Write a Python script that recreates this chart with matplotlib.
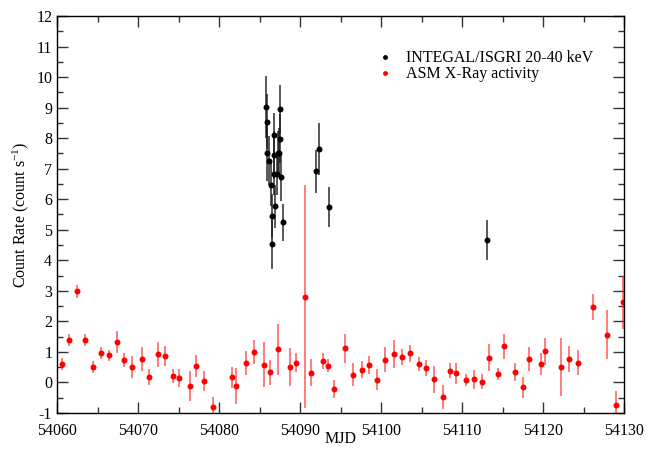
import matplotlib
matplotlib.use("Agg")
import matplotlib.pyplot as plt
from matplotlib.lines import Line2D
from matplotlib.ticker import MultipleLocator, ScalarFormatter

plt.rcParams['font.family'] = ['Liberation Serif', 'DejaVu Serif']
plt.rcParams['mathtext.default'] = 'regular'
plt.rcParams['axes.unicode_minus'] = False

# INTEGAL/ISGRI 20-40 keV
isgri_mjd = [54085.84, 54085.9, 54085.9, 54086.2, 54086.4, 54086.5, 54086.6,
             54086.8, 54086.8, 54086.75, 54086.9, 54087.1, 54087.3, 54087.4,
             54087.5, 54087.5, 54087.65, 54087.94, 54092.0, 54092.4, 54093.6,
             54113.05]
isgri_rate = [9.02, 8.54, 7.51, 7.26, 6.48, 5.46, 4.53,
              8.09, 7.45, 6.84, 5.77, 6.83, 7.53, 7.52,
              8.95, 7.98, 6.74, 5.24, 6.92, 7.65, 5.75,
              4.66]
isgri_err = [1.0, 0.9, 0.9, 0.8, 0.7, 0.7, 0.8,
             0.75, 0.8, 0.7, 0.7, 0.7, 0.7, 0.8,
             0.8, 0.8, 0.8, 0.6, 0.7, 0.86, 0.66,
             0.65]

# ASM X-Ray activity
asm_mjd = [54060.6, 54061.5, 54062.5, 54063.5, 54064.5, 54065.4, 54066.4,
           54067.4, 54068.3, 54069.3, 54070.5, 54071.4, 54072.5, 54073.3,
           54074.3, 54075.1, 54076.4, 54077.2, 54078.1, 54079.2, 54081.6,
           54082.1, 54083.3, 54084.3, 54085.6, 54086.3, 54087.3, 54088.7,
           54089.5, 54090.6, 54091.3, 54092.8, 54093.4, 54094.2, 54095.5,
           54096.5, 54097.6, 54098.5, 54099.5, 54100.5, 54101.6, 54102.6,
           54103.6, 54104.7, 54105.6, 54106.5, 54107.6, 54108.5, 54109.2,
           54110.5, 54111.5, 54112.5, 54113.3, 54114.4, 54115.2, 54116.5,
           54117.5, 54118.3, 54119.7, 54120.2, 54122.2, 54123.2, 54124.3,
           54126.2, 54127.9, 54129.0, 54129.9]
asm_rate = [0.61, 1.38, 2.98, 1.38, 0.51, 0.96, 0.89,
            1.33, 0.75, 0.50, 0.77, 0.17, 0.92, 0.86,
            0.21, 0.14, -0.12, 0.55, 0.05, -0.82, 0.17,
            -0.13, 0.64, 1.00, 0.58, 0.33, 1.08, 0.50,
            0.65, 2.81, 0.32, 0.69, 0.55, -0.22, 1.12,
            0.26, 0.41, 0.58, 0.09, 0.75, 0.93, 0.82,
            0.95, 0.61, 0.48, 0.10, -0.48, 0.38, 0.30,
            0.08, 0.10, 0.02, 0.81, 0.28, 1.18, 0.34,
            -0.16, 0.76, 0.61, 1.02, 0.50, 0.77, 0.65,
            2.46, 1.57, -0.73, 2.62]
asm_err = [0.20, 0.20, 0.22, 0.20, 0.20, 0.20, 0.18,
           0.36, 0.23, 0.36, 0.40, 0.27, 0.42, 0.33,
           0.23, 0.29, 0.48, 0.36, 0.34, 0.35, 0.34,
           0.59, 0.39, 0.38, 0.73, 0.42, 0.83, 0.62,
           0.31, 3.66, 0.45, 0.26, 0.22, 0.30, 0.48,
           0.38, 0.28, 0.29, 0.34, 0.41, 0.47, 0.26,
           0.27, 0.22, 0.26, 0.44, 0.39, 0.25, 0.34,
           0.20, 0.30, 0.25, 0.45, 0.20, 0.41, 0.30,
           0.35, 0.40, 0.37, 0.44, 0.94, 0.42, 0.42,
           0.43, 0.79, 0.44, 0.86]

fig = plt.figure(figsize=(6.54, 4.51), dpi=100)
ax = fig.add_axes([0.0872, 0.0843, 0.8670, 0.8802])

ax.errorbar(asm_mjd, asm_rate, yerr=asm_err, fmt='o', color='red',
            ecolor=(1.0, 0.2, 0.2, 0.75), elinewidth=1.2, capsize=0,
            markersize=4.3, markeredgewidth=0, zorder=2)
ax.errorbar(isgri_mjd, isgri_rate, yerr=isgri_err, fmt='o', color='black',
            ecolor=(0.1, 0.1, 0.1, 0.85), elinewidth=1.2, capsize=0,
            markersize=4.3, markeredgewidth=0, zorder=3)

ax.set_xlim(54060, 54130)
ax.set_ylim(-1, 12)
ax.xaxis.set_major_locator(MultipleLocator(10))
ax.xaxis.set_minor_locator(MultipleLocator(5))
ax.yaxis.set_major_locator(MultipleLocator(1))
ax.yaxis.set_minor_locator(MultipleLocator(0.5))
fmt = ScalarFormatter(useOffset=False)
fmt.set_scientific(False)
ax.xaxis.set_major_formatter(fmt)

ax.tick_params(which='both', direction='in', top=True, right=True, labelsize=11.5,
               color='#333333')
ax.tick_params(which='major', length=8, width=1)
ax.tick_params(which='minor', length=4, width=1)
ax.tick_params(axis='x', which='major', pad=7.5)
for s in ax.spines.values():
    s.set_linewidth(1.0)

ax.set_xlabel('MJD', fontsize=11.5, labelpad=-6)
ax.set_ylabel('Count Rate (count s$^{-1}$)', fontsize=11.5, labelpad=4)

handles = [
    Line2D([], [], linestyle='none', marker='o', color='black', markersize=3.5,
           markeredgewidth=0),
    Line2D([], [], linestyle='none', marker='o', color='red', markersize=3.5,
           markeredgewidth=0),
]
labels = ['INTEGAL/ISGRI 20-40 keV', 'ASM X-Ray activity']
ax.legend(handles, labels, loc='upper left', bbox_to_anchor=(0.553, 0.93),
          frameon=False, fontsize=11.5, handletextpad=0.8, handlelength=1.0,
          labelspacing=0.0, borderaxespad=0)

fig.savefig('out.png', dpi=100)
